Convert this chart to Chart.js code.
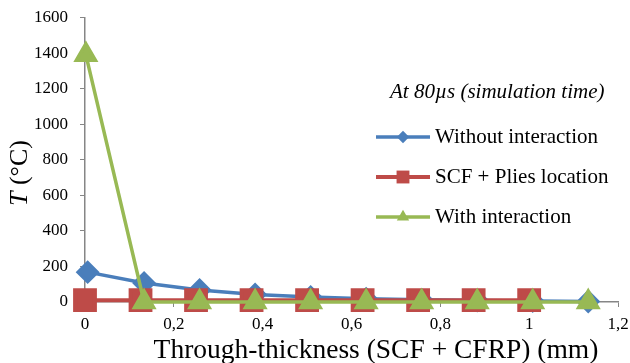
<!DOCTYPE html>
<html>
<head>
<meta charset="utf-8">
<script src="https://cdn.jsdelivr.net/npm/chart.js@4.4.1/dist/chart.umd.min.js"></script>
<style>
  html, body { margin: 0; padding: 0; background: #fff; }
  #wrap { width: 630px; height: 363px; }
</style>
</head>
<body>
<div id="wrap"><canvas id="chart" width="630" height="363"></canvas></div>
<script>
'use strict';

// Through-thickness position (mm) and temperature (°C) per series
const xWithout = [0.006, 0.133, 0.258, 0.383, 0.508, 0.633, 0.758, 0.883, 1.008, 1.133];
const tWithout = [168, 107, 68, 42, 28, 18, 12, 8, 5, 3];

const xPlies = [0, 0.125, 0.25, 0.375, 0.5, 0.625, 0.75, 0.875, 1.0];
const tPlies = [10, 10, 10, 10, 10, 10, 10, 10, 10];

const xWith = [0.002, 0.133, 0.258, 0.383, 0.508, 0.633, 0.758, 0.883, 1.008, 1.133];
const tWith = [1390, 0, 0, 0, 0, 0, 0, 0, 0, 0];

const seriesLabels = ['Without interaction', 'SCF + Plies location', 'With interaction'];
const xTickLabels = ['0', '0,2', '0,4', '0,6', '0,8', '1', '1,2'];
const yTickLabels = ['0', '200', '400', '600', '800', '1000', '1200', '1400', '1600'];

const noteText = 'At 80\u00b5s (simulation time)';
const xTitle = 'Through-thickness (SCF + CFRP) (mm)';

const FONT = 'Liberation Serif';
const AXIS_GREY = '#868686';

Chart.defaults.font.family = FONT;
Chart.defaults.color = '#000';

const colors = {
  blue: '#4A7EBB',
  red: '#BE4B48',
  green: '#98B954',
};

function toPoints(xs, ys) {
  return xs.map((x, i) => ({ x, y: ys[i] }));
}

// Marker zeichnen (für die Legende)
function drawMarker(ctx, style, x, y, r, color) {
  ctx.save();
  ctx.fillStyle = color;
  ctx.beginPath();
  if (style === 'rectRot') {
    ctx.moveTo(x, y - r);
    ctx.lineTo(x + r, y);
    ctx.lineTo(x, y + r);
    ctx.lineTo(x - r, y);
  } else if (style === 'rect') {
    const s = r * Math.SQRT1_2;
    ctx.rect(x - s, y - s, 2 * s, 2 * s);
  } else {
    ctx.moveTo(x, y - r);
    ctx.lineTo(x + r * Math.sin(Math.PI / 3), y + r / 2);
    ctx.lineTo(x - r * Math.sin(Math.PI / 3), y + r / 2);
  }
  ctx.closePath();
  ctx.fill();
  ctx.restore();
}

const annotationPlugin = {
  id: 'annotations',
  afterDraw(chart) {
    const ctx = chart.ctx;
    ctx.save();
    ctx.fillStyle = '#000';

    // y-Achsentitel: kursives T
    ctx.save();
    ctx.translate(20, 173);
    ctx.rotate(-Math.PI / 2);
    ctx.textBaseline = 'middle';
    ctx.font = `italic 26px ${FONT}`;
    const tW = ctx.measureText('T').width;
    ctx.font = `26px ${FONT}`;
    const restW = ctx.measureText(' (\u00b0C)').width;
    const startX = -(tW + restW) / 2;
    ctx.textAlign = 'left';
    ctx.font = `italic 26px ${FONT}`;
    ctx.fillText('T', startX, 0);
    ctx.font = `26px ${FONT}`;
    ctx.fillText(' (\u00b0C)', startX + tW, 0);
    ctx.restore();

    // x-Achsentitel
    ctx.font = `27.5px ${FONT}`;
    ctx.textAlign = 'center';
    ctx.textBaseline = 'middle';
    ctx.fillText(xTitle, 376, 351);

    // Hinweis
    ctx.font = `italic 21px ${FONT}`;
    ctx.textAlign = 'left';
    ctx.fillText(noteText, 390, 92);

    // Legende
    const rows = [137, 177, 217];
    chart.data.datasets.forEach((ds, i) => {
      const y = rows[i];
      ctx.strokeStyle = ds.borderColor;
      ctx.lineWidth = ds.borderWidth;
      ctx.beginPath();
      ctx.moveTo(376, y);
      ctx.lineTo(430, y);
      ctx.stroke();
      drawMarker(ctx, ds.pointStyle, 403, y, ds.pointRadius * 0.65, ds.backgroundColor);
      ctx.fillStyle = '#000';
      ctx.font = `21px ${FONT}`;
      ctx.fillText(seriesLabels[i], 435, y);
    });
    ctx.restore();
  },
};

new Chart(document.getElementById('chart'), {
  type: 'scatter',
  data: {
    datasets: [
      {
        label: seriesLabels[0],
        data: toPoints(xWithout, tWithout),
        showLine: true,
        borderColor: colors.blue,
        backgroundColor: colors.blue,
        borderWidth: 3.5,
        pointStyle: 'rectRot',
        pointRadius: 9.5,
        order: 3,
      },
      {
        label: seriesLabels[1],
        data: toPoints(xPlies, tPlies),
        showLine: true,
        borderColor: colors.red,
        backgroundColor: colors.red,
        borderWidth: 4,
        pointStyle: 'rect',
        pointRadius: 14,
        order: 2,
      },
      {
        label: seriesLabels[2],
        data: toPoints(xWith, tWith),
        showLine: true,
        borderColor: colors.green,
        backgroundColor: colors.green,
        borderWidth: 3.5,
        pointStyle: 'triangle',
        pointRadius: 11,
        order: 1,
      },
    ],
  },
  options: {
    responsive: false,
    animation: false,
    clip: false,
    layout: {
      autoPadding: false,
      padding: { top: 17.5, right: 12, left: 0, bottom: 0 },
    },
    plugins: {
      legend: { display: false },
      tooltip: { enabled: false },
    },
    elements: {
      point: { borderWidth: 0, hoverRadius: 0 },
      line: { tension: 0 },
    },
    scales: {
      x: {
        type: 'linear',
        min: 0,
        max: 1.2,
        afterBuildTicks(scale) {
          scale.ticks = xTickLabels.map((_, i) => ({ value: i * 0.2 }));
        },
        afterFit(scale) {
          scale.height = 61;
          scale.paddingLeft = 0;
          scale.paddingRight = 0;
        },
        ticks: {
          callback: (v, i) => xTickLabels[i],
          font: { family: FONT, size: 17 },
          color: '#000',
          padding: 7,
          maxRotation: 0,
          autoSkip: false,
        },
        grid: {
          drawOnChartArea: false,
          drawTicks: true,
          tickLength: 5,
          tickColor: AXIS_GREY,
        },
        border: { color: AXIS_GREY, width: 1.5 },
      },
      y: {
        type: 'linear',
        min: 0,
        max: 1600,
        afterBuildTicks(scale) {
          scale.ticks = yTickLabels.map(t => ({ value: Number(t) }));
        },
        afterFit(scale) {
          scale.width = 85;
          scale.paddingTop = 0;
          scale.paddingBottom = 0;
        },
        ticks: {
          callback: (v, i) => yTickLabels[i],
          font: { family: FONT, size: 17 },
          color: '#000',
          padding: 12,
        },
        grid: {
          drawOnChartArea: false,
          drawTicks: true,
          tickLength: 5,
          tickColor: AXIS_GREY,
        },
        border: { color: AXIS_GREY, width: 1.5 },
      },
    },
  },
  plugins: [annotationPlugin],
});
</script>
</body>
</html>
